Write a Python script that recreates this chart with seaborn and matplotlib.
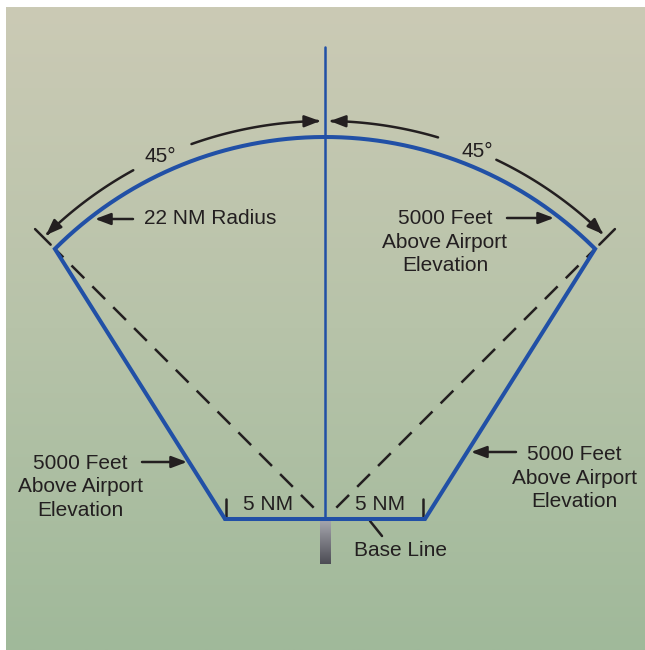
import numpy as np
import matplotlib.pyplot as plt
import seaborn as sns
from matplotlib.patches import FancyArrowPatch
from matplotlib.path import Path
from matplotlib.colors import LinearSegmentedColormap

# ==================================================
# Diagram geometry (drawing units = pixels of the canvas)
# ==================================================
CENTER = (325, 519)          # middle of the base line
ARC_RADIUS = 382             # 22 NM radius
SECTOR_ANGLE = 45            # degrees each side of the centre line
BASE_HALF = 100              # 5 NM each side of the centre
CENTER_LINE_TOP = 47
DASH_START = 16
TICK_RANGE = (388, 410)      # short radial tick past the arc corners
ANGLE_ARROW_RADIUS = 398

# black angle arrows, (tail angle, tip angle) in degrees from the centre line
angle_arrows = [(-28.8, -44.5), (-19.6, -0.7), (16.5, 0.7), (25.5, 44.3)]
angle_labels = ["45°", "45°"]
angle_label_angles = [-24.5, 22.5]

# text labels
labels = ["22 NM Radius",
          "5000 Feet\nAbove Airport\nElevation",
          "5000 Feet\nAbove Airport\nElevation",
          "5000 Feet\nAbove Airport\nElevation",
          "5 NM", "5 NM", "Base Line"]
label_xy = [(144, 219), (445, 242), (80, 487), (574, 478),
            (268, 505), (380, 505), (400, 550)]
label_ha = ["left", "center", "center", "center", "center", "center", "center"]

# straight pointer arrows (tail -> tip)
pointer_tails = [(133, 219), (507, 218), (142, 462), (516, 452)]
pointer_tips = [(95, 219), (554, 218), (187, 462), (471, 452)]

BLUE = "#2150a6"
INK = "#231f20"
HEAD = "-|>,head_length=0.85,head_width=0.32"


def polar(r, deg):
    a = np.radians(deg)
    return CENTER[0] + r * np.sin(a), CENTER[1] - r * np.cos(a)


sns.set_theme(style="white")
plt.rcParams["font.family"] = ["Liberation Sans", "DejaVu Sans"]

fig = plt.figure(figsize=(6.45, 6.5), dpi=100)
ax = fig.add_axes([0, 0, 1, 1])
ax.set_xlim(0, 645)
ax.set_ylim(650, 0)
ax.axis("off")

# background panel gradient
bg = LinearSegmentedColormap.from_list("bg", ["#cbcab5", "#b7c3a9", "#a0b99a"])
ax.imshow(np.linspace(0, 1, 256).reshape(-1, 1), cmap=bg, aspect="auto",
          extent=(6, 645, 650, 7), zorder=0)

# runway stub below the base line
rw = LinearSegmentedColormap.from_list("rw", ["#a4a4ac", "#4d4d55"])
ax.imshow(np.linspace(0, 1, 64).reshape(-1, 1), cmap=rw, aspect="auto",
          extent=(320, 331, 564, 521), zorder=1)

# sector outline: base line, sides and 22 NM arc
arc_deg = np.linspace(-SECTOR_ANGLE, SECTOR_ANGLE, 200)
ax_x, ax_y = polar(ARC_RADIUS, arc_deg)
out_x = np.concatenate([[CENTER[0] - BASE_HALF], ax_x, [CENTER[0] + BASE_HALF, CENTER[0] - BASE_HALF]])
out_y = np.concatenate([[CENTER[1]], ax_y, [CENTER[1], CENTER[1]]])
sns.lineplot(x=out_x, y=out_y, sort=False, estimator=None, color=BLUE,
             linewidth=2.9, ax=ax, zorder=4, solid_joinstyle="miter")

# centre line
ax.plot([CENTER[0], CENTER[0]], [CENTER_LINE_TOP, CENTER[1]], color=BLUE,
        linewidth=1.8, zorder=4)

# dashed radials and corner ticks
for s in (-1, 1):
    x0, y0 = polar(DASH_START, s * SECTOR_ANGLE)
    x1, y1 = polar(ARC_RADIUS, s * SECTOR_ANGLE)
    ax.plot([x0, x1], [y0, y1], color=INK, linewidth=1.8,
            linestyle=(0, (7.2, 4.6)), zorder=3)
    tx, ty = polar(np.array(TICK_RANGE), s * SECTOR_ANGLE)
    ax.plot(tx, ty, color=INK, linewidth=1.8, zorder=3)

# base line end ticks
for bx in (CENTER[0] - BASE_HALF + 1, CENTER[0] + BASE_HALF - 2):
    ax.plot([bx, bx], [499, 517], color=INK, linewidth=1.8, zorder=3)

# base line leader
ax.plot([370, 382], [521, 536], color=INK, linewidth=1.8, zorder=3)

# curved 45 degree arrows
for a0, a1 in angle_arrows:
    px, py = polar(ANGLE_ARROW_RADIUS, np.linspace(a0, a1, 60))
    path = Path(np.column_stack([px, py]))
    ax.add_patch(FancyArrowPatch(path=path, arrowstyle=HEAD, mutation_scale=11,
                                 color=INK, linewidth=1.8, zorder=5))

for lab, ang in zip(angle_labels, angle_label_angles):
    lx, ly = polar(ANGLE_ARROW_RADIUS, ang)
    ax.text(lx, ly, lab, ha="center", va="center", fontsize=15, color=INK, zorder=6)

# straight pointer arrows
for tail, tip in zip(pointer_tails, pointer_tips):
    ax.annotate("", xy=tip, xytext=tail,
                arrowprops=dict(arrowstyle=HEAD, mutation_scale=11, color=INK,
                                linewidth=1.8, shrinkA=0, shrinkB=0), zorder=5)

for lab, (lx, ly), ha in zip(labels, label_xy, label_ha):
    ax.text(lx, ly, lab, ha=ha, va="center", fontsize=15, color=INK,
            linespacing=1.32, multialignment="center", zorder=6)

fig.savefig("out.png", dpi=100, facecolor="white")
